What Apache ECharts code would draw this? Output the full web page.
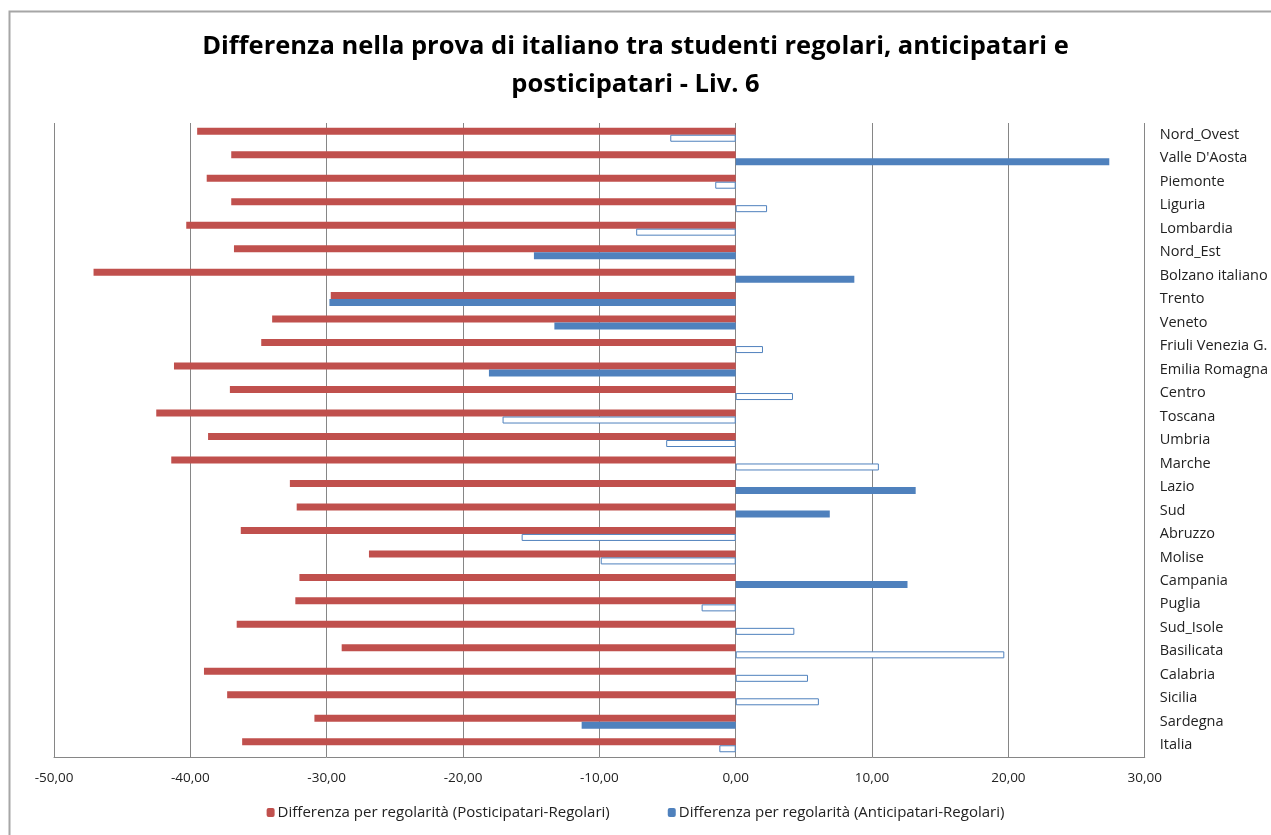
<!DOCTYPE html>
<html>
<head>
<meta charset="utf-8">
<script src="https://cdn.jsdelivr.net/npm/echarts@6/dist/echarts.min.js"></script>
<style>
html,body{margin:0;padding:0;background:#fff;}
#chart{width:1271px;height:835px;}
</style>
</head>
<body>
<div id="chart"></div>
<script>
const categories = ["Nord_Ovest","Valle D'Aosta","Piemonte","Liguria","Lombardia","Nord_Est","Bolzano italiano","Trento","Veneto","Friuli Venezia G.","Emilia Romagna","Centro","Toscana","Umbria","Marche","Lazio","Sud","Abruzzo","Molise","Campania","Puglia","Sud_Isole","Basilicata","Calabria","Sicilia","Sardegna","Italia"];
const posticipatari = [-39.5,-37.0,-38.8,-37.0,-40.3,-36.8,-47.1,-29.7,-34.0,-34.8,-41.2,-37.1,-42.5,-38.7,-41.4,-32.7,-32.2,-36.3,-26.9,-32.0,-32.3,-36.6,-28.9,-39.0,-37.3,-30.9,-36.2];
const anticipatari = [-4.8,27.4,-1.5,2.3,-7.3,-14.8,8.7,-29.8,-13.3,2.0,-18.1,4.2,-17.1,-5.1,10.5,13.2,6.9,-15.7,-9.9,12.6,-2.5,4.3,19.7,5.3,6.1,-11.3,-1.2];
const anticipatariSignificant = [false,true,false,false,false,true,true,true,true,false,true,false,false,false,false,true,true,false,false,true,false,false,false,false,false,true,false];
const xTicks = {min:-50,max:30,interval:10};

const RED = '#c0504d', BLUE = '#4f81bd';
const chart = echarts.init(document.getElementById('chart'), null, {renderer:'canvas'});
const font = '"Open Sans", "Noto Sans", sans-serif';
chart.setOption({
  animation:false,
  backgroundColor:'#fff',
  title:{
    text:'Differenza nella prova di italiano tra studenti regolari, anticipatari e\nposticipatari - Liv. 6',
    left:'center', top:23,
    textStyle:{fontFamily:font,fontWeight:'bold',fontSize:25.5,lineHeight:38,color:'#000'}
  },
  graphic:[{type:'rect',shape:{x:9.5,y:11.5,width:1300,height:900},style:{fill:'none',stroke:'#a6a6a6',lineWidth:2},silent:true,z:-1}],
  legend:{
    bottom:10, left:'center', itemWidth:8, itemHeight:9, itemGap:58,
    textStyle:{fontFamily:font,fontSize:15,color:'#222',padding:[0,0,0,-2]},
    data:[{name:'Differenza per regolarità (Posticipatari-Regolari)',itemStyle:{color:RED}},
          {name:'Differenza per regolarità (Anticipatari-Regolari)',itemStyle:{color:BLUE}}]
  },
  grid:{left:54,right:126,top:123,bottom:78,containLabel:false},
  xAxis:{
    type:'value', min:xTicks.min, max:xTicks.max, interval:xTicks.interval,
    axisLine:{show:true,onZero:false,lineStyle:{color:'#868686',width:1}},
    axisTick:{show:false},
    splitLine:{show:true,lineStyle:{color:'#868686',width:1}},
    axisLabel:{fontFamily:font,fontSize:13.5,color:'#222',margin:14,formatter:v=>v.toFixed(2).replace('.',',')}
  },
  yAxis:{
    type:'category', data:categories, inverse:true, position:'right',
    axisLine:{show:false}, axisTick:{show:false}, splitLine:{show:false},
    axisLabel:{fontFamily:font,fontSize:14.5,color:'#222',margin:15,align:'left',padding:[6,0,0,0]}
  },
  series:[
    {name:'Differenza per regolarità (Posticipatari-Regolari)',type:'bar',data:posticipatari,
     barWidth:7,barGap:'0%',itemStyle:{color:RED}},
    {name:'Differenza per regolarità (Anticipatari-Regolari)',type:'bar',
     data:anticipatari.map((v,i)=>({value:v,itemStyle:anticipatariSignificant[i]?{color:BLUE}:{color:'#fff',borderColor:BLUE,borderWidth:1}})),
     barWidth:7,barGap:'0%',itemStyle:{color:BLUE}}
  ]
});
</script>
</body>
</html>
